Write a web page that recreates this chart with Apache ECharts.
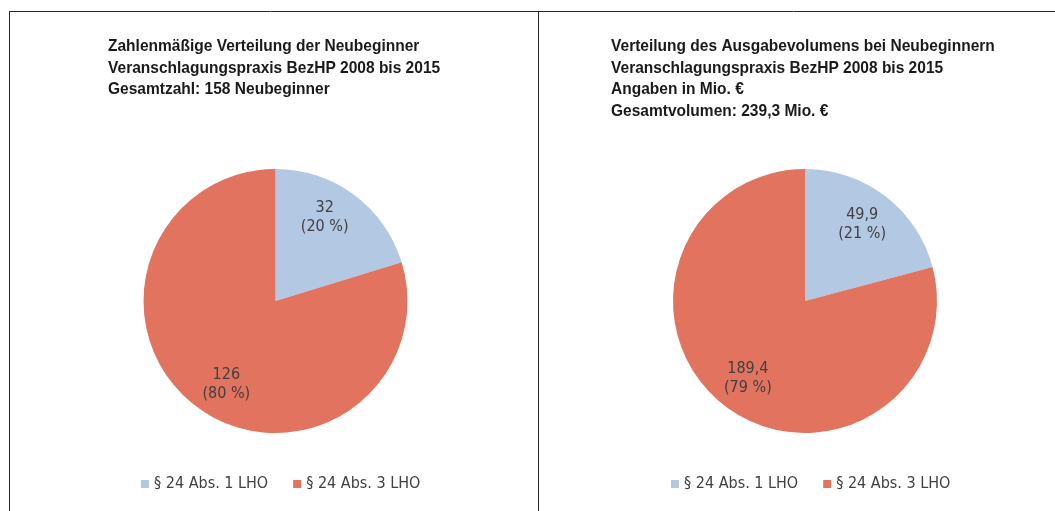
<!DOCTYPE html>
<html><head><meta charset="utf-8">
<script src="https://cdn.jsdelivr.net/npm/echarts@6/dist/echarts.min.js"></script>
<style>html,body{margin:0;padding:0;background:#fff}#c{width:1055px;height:511px}</style>
</head><body><div id="c"></div>
<script>
const categories = ['§ 24 Abs. 1 LHO', '§ 24 Abs. 3 LHO'];
const countValues = [32, 126];
const volumeValues = [49.9, 189.4];
const titleLeft = 'Zahlenmäßige Verteilung der Neubeginner\nVeranschlagungspraxis BezHP 2008 bis 2015\nGesamtzahl: 158 Neubeginner';
const titleRight = 'Verteilung des Ausgabevolumens bei Neubeginnern\nVeranschlagungspraxis BezHP 2008 bis 2015\nAngaben in Mio. €\nGesamtvolumen: 239,3 Mio. €';
const colors = ['#B3C8E2', '#E2735E'];
const FONT = '"Liberation Sans Narrow", "Arial Narrow", "DejaVu Sans Condensed", sans-serif';

function fmtNum(v) { return String(v).replace('.', ','); }
function mkData(vals) { return categories.map((n, i) => ({ name: n, value: vals[i] })); }

function pieMain(vals, cx) {
  return {
    type: 'pie', center: [cx, 301], radius: 132, startAngle: 90, clockwise: true,
    data: mkData(vals), color: colors, label: { show: false }, labelLine: { show: false },
    itemStyle: { borderWidth: 0 }, silent: true, animation: false
  };
}
function pieLabels(vals, cx, rot, r0) {
  return {
    type: 'pie', center: [cx, 301], radius: [r0, 132], startAngle: 90 + rot, clockwise: true,
    data: mkData(vals), itemStyle: { color: 'rgba(0,0,0,0)', borderWidth: 0 },
    silent: true, animation: false, legendHoverLink: false,
    label: {
      show: true, position: 'inside', color: '#404040', fontFamily: FONT, fontSize: 16, lineHeight: 19,
      formatter: p => fmtNum(p.value) + '\n(' + Math.round(p.percent) + ' %)'
    },
    labelLine: { show: false }
  };
}
function titleText(txt, x) {
  return {
    type: 'text', x: x, y: 36, scaleX: 0.913, silent: true,
    style: { text: txt, font: 'bold 17px "Liberation Sans", Arial, sans-serif', lineHeight: 21.5, fill: '#1a1a1a' }
  };
}

const chart = echarts.init(document.getElementById('c'), null, { renderer: 'canvas' });
chart.setOption({
  backgroundColor: '#ffffff',
  animation: false,
  legend: [
    { data: categories, left: 141, top: 476, icon: 'rect', itemWidth: 8, itemHeight: 8, itemGap: 25, padding: 0,
      textStyle: { fontFamily: FONT, fontSize: 16, color: '#404040' }, selectedMode: false },
    { data: categories, left: 671, top: 476, icon: 'rect', itemWidth: 8, itemHeight: 8, itemGap: 25, padding: 0,
      textStyle: { fontFamily: FONT, fontSize: 16, color: '#404040' }, selectedMode: false }
  ],
  series: [
    pieMain(countValues, 275.5), pieMain(volumeValues, 805),
    pieLabels(countValues, 275.5, 6, 56), pieLabels(volumeValues, 805, 1, 54)
  ],
  graphic: [
    titleText(titleLeft, 108), titleText(titleRight, 611),
    { type: 'line', shape: { x1: 9, y1: 11.5, x2: 1055, y2: 11.5 }, style: { stroke: '#262626', lineWidth: 1 }, silent: true },
    { type: 'line', shape: { x1: 9.5, y1: 11, x2: 9.5, y2: 511 }, style: { stroke: '#262626', lineWidth: 1 }, silent: true },
    { type: 'line', shape: { x1: 538.5, y1: 11, x2: 538.5, y2: 511 }, style: { stroke: '#262626', lineWidth: 1 }, silent: true }
  ]
});
</script></body></html>
